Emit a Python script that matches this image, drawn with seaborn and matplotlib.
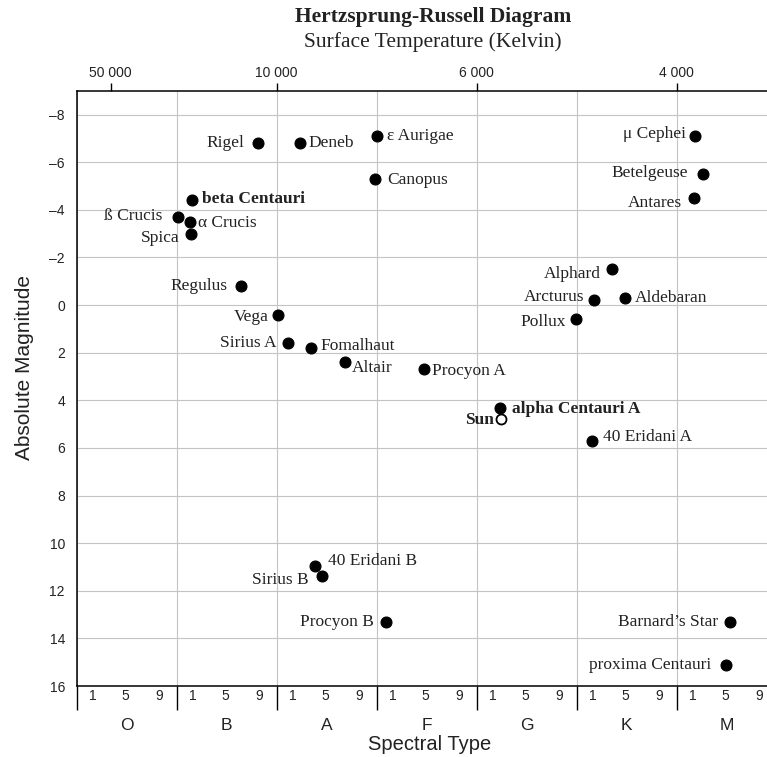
import numpy as np
import pandas as pd
import matplotlib
matplotlib.use("Agg")
import matplotlib.pyplot as plt
import matplotlib.transforms as mtransforms
import seaborn as sns

# ---------------- data ----------------
star_names = ["Rigel", "Deneb", "ε Aurigae", "Canopus", "beta Centauri", "ß Crucis",
              "α Crucis", "Spica", "Regulus", "Vega", "Sirius A", "Fomalhaut", "Altair",
              "Procyon A", "alpha Centauri A", "40 Eridani A", "Alphard", "Arcturus",
              "Aldebaran", "Pollux", "μ Cephei", "Betelgeuse", "Antares", "40 Eridani B",
              "Sirius B", "Procyon B", "Barnard’s Star", "proxima Centauri"]
spectral_pos = [18.1, 22.3, 30.0, 29.8, 11.5, 10.1,
                11.3, 11.4, 16.4, 20.1, 21.1, 23.4, 26.8,
                34.7, 42.3, 51.5, 53.5, 51.7,
                54.8, 49.9, 61.8, 62.6, 61.7, 23.8,
                24.5, 30.9, 65.3, 64.9]
abs_mag = [-6.8, -6.8, -7.1, -5.3, -4.4, -3.7,
           -3.5, -3.0, -0.8, 0.4, 1.6, 1.8, 2.4,
           2.7, 4.33, 5.7, -1.5, -0.2,
           -0.3, 0.6, -7.1, -5.5, -4.5, 10.95,
           11.4, 13.3, 13.3, 15.1]

sun_name = ["Sun"]
sun_pos = [42.4]
sun_mag = [4.8]

spectral_classes = ["O", "B", "A", "F", "G", "K", "M"]
subtype_labels = ["1", "5", "9"]
temperatures = ["50 000", "10 000", "6 000", "4 000"]
temperature_pos = [3.4, 20.0, 40.0, 60.0]
mag_ticks = list(range(-8, 17, 2))

# ---------------- label layout (pixel offsets, alignment) ----------------
label_layout = {
    "Rigel": (-13, 0, "right"), "Deneb": (9, 0, "left"), "ε Aurigae": (10, 0, "left"),
    "Canopus": (13, -1, "left"), "beta Centauri": (10, 1, "left"), "ß Crucis": (-15, 1, "right"),
    "α Crucis": (8, -1, "left"), "Spica": (-11, -4, "right"), "Regulus": (-13, 0, "right"),
    "Vega": (-9, -2, "right"), "Sirius A": (-11, 0, "right"), "Fomalhaut": (10, 2, "left"),
    "Altair": (7, -6, "left"), "Procyon A": (8, -2, "left"), "alpha Centauri A": (12, -1, "left"),
    "40 Eridani A": (11, 4, "left"), "Alphard": (-11, -5, "right"), "Arcturus": (-9, 3, "right"),
    "Aldebaran": (10, 0, "left"), "Pollux": (-10, -3, "right"), "μ Cephei": (-9, 2, "right"),
    "Betelgeuse": (-15, 1, "right"), "Antares": (-12, -5, "right"), "40 Eridani B": (13, 5, "left"),
    "Sirius B": (-13, -4, "right"), "Procyon B": (-12, 0, "right"),
    "Barnard’s Star": (-12, 0, "right"), "proxima Centauri": (-14, 0, "right"),
    "Sun": (-7, -1, "right"),
}
bold_labels = {"beta Centauri", "alpha Centauri A", "Sun"}

# ---------------- figure ----------------
sns.set_theme(style="white")
plt.rcParams["font.family"] = ["Liberation Sans", "DejaVu Sans"]
plt.rcParams["axes.unicode_minus"] = True

W, H = 767, 757
fig = plt.figure(figsize=(W / 100, H / 100), dpi=100)
left_px, right_px, top_px, bottom_px = 76.7, 776.7, 90.7, 686.0
ax = fig.add_axes([left_px / W, 1 - bottom_px / H, (right_px - left_px) / W, (bottom_px - top_px) / H])

stars = pd.DataFrame({"name": star_names, "spectral": spectral_pos, "mag": abs_mag})
sun = pd.DataFrame({"name": sun_name, "spectral": sun_pos, "mag": sun_mag})

sns.scatterplot(data=stars, x="spectral", y="mag", ax=ax, color="black", s=62,
                edgecolor="black", linewidth=0.8, zorder=3, legend=False)
sns.scatterplot(data=sun, x="spectral", y="mag", ax=ax, color="white", s=52,
                edgecolor="black", linewidth=1.3, zorder=3, legend=False)

ax.set_xlim(0, 70)
ax.set_ylim(16, -9)

serif = ["Liberation Serif", "DejaVu Serif"]
for df in (stars, sun):
    for _, r in df.iterrows():
        dx, dy, ha = label_layout[r["name"]]
        ax.annotate(r["name"], (r["spectral"], r["mag"]), xytext=(dx, dy),
                    textcoords="offset pixels", ha=ha, va="center",
                    fontsize=12.5, family=serif, color="#222222",
                    fontweight="bold" if r["name"] in bold_labels else "normal", zorder=4)

# grid
ax.set_xticks(np.arange(0, 70, 10))
ax.set_xticklabels([])
ax.set_yticks(mag_ticks)
ax.set_yticklabels([str(v) if v >= 0 else "\u2013" + str(-v) for v in mag_ticks])
ax.grid(True, which="major", color="#c4c4c4", linewidth=0.8)
ax.set_axisbelow(True)

minor_pos = [c * 10 + o for c in range(len(spectral_classes)) for o in (1.6, 4.9, 8.2)]
ax.set_xticks(minor_pos, minor=True)
ax.set_xticklabels(subtype_labels * len(spectral_classes), minor=True)
ax.tick_params(axis="x", which="major", direction="out", length=17, width=1.0,
               color="black", bottom=True)
ax.tick_params(axis="x", which="minor", length=0, pad=2.5, labelsize=10, labelcolor="#222222")
ax.tick_params(axis="y", which="major", length=0, pad=8.5, labelsize=10, labelcolor="#222222")

for side in ("left", "top", "bottom"):
    ax.spines[side].set_visible(True)
    ax.spines[side].set_color("black")
    ax.spines[side].set_linewidth(1.1)
ax.spines["right"].set_visible(False)
ax.set_xlabel("")
ax.set_ylabel("")

# class letters
trans = mtransforms.blended_transform_factory(ax.transData, ax.transAxes)
yfrac = -(725 - bottom_px) / (bottom_px - top_px)
for i, c in enumerate(spectral_classes):
    ax.text(i * 10 + 5, yfrac, c, transform=trans, ha="center", va="center",
            fontsize=12.5, color="#222222")

# top temperature axis
sec = ax.secondary_xaxis("top")
sec.set_xticks(temperature_pos)
sec.set_xticklabels(temperatures)
sec.tick_params(axis="x", direction="out", length=5.5, width=1.0, color="black",
                pad=2.5, labelsize=10, labelcolor="#222222")
sec.spines["top"].set_visible(False)

fig.text(430 / W, 1 - 744 / H, "Spectral Type", ha="center", va="center",
         fontsize=14.5, color="#222222")
fig.text(25 / W, 1 - 368 / H, "Absolute Magnitude", ha="center", va="center",
         rotation=90, fontsize=15, color="#222222")
fig.text(433 / W, 1 - 17 / H, "Hertzsprung-Russell Diagram", ha="center", va="center",
         fontsize=15.5, fontweight="bold", family=serif, color="#222222")
fig.text(433 / W, 1 - 42 / H, "Surface Temperature (Kelvin)", ha="center", va="center",
         fontsize=15.5, family=serif, color="#222222")

fig.savefig("out.png", dpi=100)
